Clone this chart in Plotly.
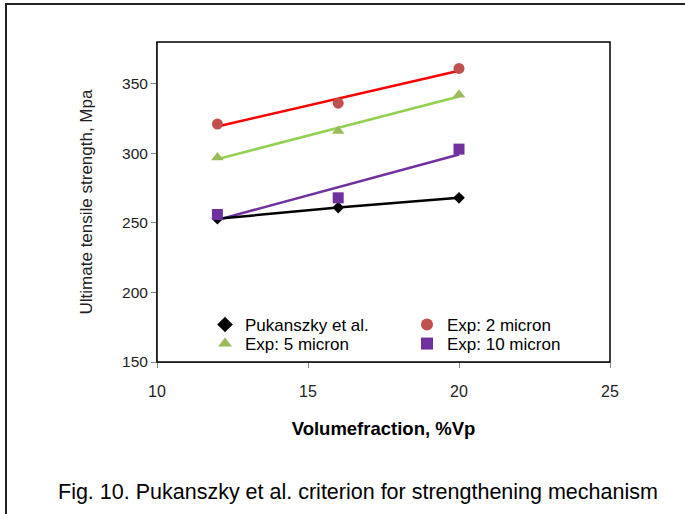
import numpy as np
import plotly.graph_objects as go

x_vals = [12, 16, 20]
puk = [253, 261, 268]
exp2 = [321, 336, 361]
exp5 = [297, 316, 342]
exp10 = [256, 268, 303]

x_ticks = [10, 15, 20, 25]
y_ticks = [150, 200, 250, 300, 350]

W, H = 685, 514
L, R, T, B = 157, 75, 42, 152
pw, ph = W - L - R, H - T - B

FONT = "Liberation Sans, Arial, sans-serif"

fig = go.Figure()

def trend(y, color):
    c = np.polyfit(x_vals, y, 1)
    xs = np.array([x_vals[0], x_vals[-1]])
    fig.add_trace(go.Scatter(x=xs, y=np.polyval(c, xs), mode="lines",
                             line=dict(color=color, width=2.5), showlegend=False,
                             hoverinfo="skip"))

trend(exp2, "#FF0000")
trend(exp5, "#92D050")
trend(exp10, "#7030A0")

fig.add_trace(go.Scatter(x=x_vals, y=puk, mode="lines+markers", name="Pukanszky et al.",
                         line=dict(color="black", width=2.5), showlegend=False,
                         marker=dict(symbol="diamond", size=9, color="black")))
# legend-only entry for Pukanszky (marker only, as in the reference legend)
fig.add_trace(go.Scatter(x=[None], y=[None], mode="markers", name="Pukanszky et al.",
                         marker=dict(symbol="diamond", size=9, color="black"),
                         legend="legend"))
fig.add_trace(go.Scatter(x=x_vals, y=exp2, mode="markers", name="Exp: 2 micron",
                         marker=dict(symbol="circle", size=11, color="#C0504D"),
                         legend="legend"))
fig.add_trace(go.Scatter(x=x_vals, y=exp5, mode="markers", name="Exp: 5 micron",
                         marker=dict(symbol="triangle-up", size=11, color="#9BBB59"),
                         legend="legend2"))
fig.add_trace(go.Scatter(x=x_vals, y=exp10, mode="markers", name="Exp: 10 micron",
                         marker=dict(symbol="square", size=11, color="#7030A0"),
                         legend="legend2"))

# outer border
fig.add_shape(type="rect", xref="paper", yref="paper",
              x0=(6 - L) / pw, x1=(W + 10 - L) / pw,
              y0=-(H + 10 - T - ph) / ph, y1=1 + (T - 4) / ph,
              line=dict(color="#222", width=2), layer="above")
# plot area border
fig.add_shape(type="rect", xref="paper", yref="paper", x0=0, x1=1, y0=0, y1=1,
              line=dict(color="black", width=1.5), layer="above")

fig.add_annotation(text="Fig. 10. Pukanszky et al. criterion for strengthening mechanism",
                   xref="paper", yref="paper", x=(358 - L) / pw, y=-(492 - T - ph) / ph,
                   showarrow=False, font=dict(family=FONT, size=21.5, color="black"),
                   xanchor="center", yanchor="middle")

leg_common = dict(orientation="h", xanchor="left", yanchor="middle",
                  entrywidth=157, entrywidthmode="pixels",
                  font=dict(family=FONT, size=17, color="black"),
                  bgcolor="rgba(0,0,0,0)", itemsizing="constant")

fig.update_layout(
    width=W, height=H,
    margin=dict(l=L, r=R, t=T, b=B),
    paper_bgcolor="white", plot_bgcolor="white",
    font=dict(family=FONT, size=15, color="#222"),
    showlegend=True,
    legend=dict(x=(205 - L) / pw, y=(362 - 325) / ph, **leg_common),
    legend2=dict(x=(205 - L) / pw, y=(362 - 344) / ph, **leg_common),
    xaxis=dict(range=[10, 25], tickvals=x_ticks, showgrid=False, zeroline=False,
               showline=True, linecolor="#868686", linewidth=1,
               ticks="outside", ticklen=5, tickcolor="#868686",
               ticklabelstandoff=10,
               tickfont=dict(size=16, color="#222"),
               title=dict(text="<b>Volumefraction, %Vp</b>", standoff=22,
                          font=dict(size=18.5, color="black"))),
    yaxis=dict(range=[150, 380], tickvals=y_ticks, showgrid=False, zeroline=False,
               showline=True, linecolor="#868686", linewidth=1,
               ticks="outside", ticklen=5, tickcolor="#868686",
               tickfont=dict(size=15.5, color="#222"),
               title=dict(text="Ultimate tensile strength, Mpa", standoff=25,
                          font=dict(size=17, color="#222"))),
)

fig.write_html("out.html")
